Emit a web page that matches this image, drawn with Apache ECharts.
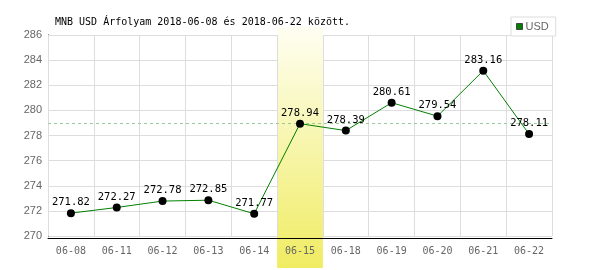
<!DOCTYPE html>
<html>
<head>
<meta charset="utf-8">
<script src="https://cdn.jsdelivr.net/npm/echarts@6/dist/echarts.min.js"></script>
<style>html,body{margin:0;padding:0;background:#fff}#c{width:600px;height:270px}</style>
</head>
<body>
<div id="c"></div>
<script>
const categories = ['06-08','06-11','06-12','06-13','06-14','06-15','06-18','06-19','06-20','06-21','06-22'];
const usdValues = [271.82,272.27,272.78,272.85,271.77,278.94,278.39,280.61,279.54,283.16,278.11];
const highlightDay = '06-15';
const referenceValue = 278.94;
const yTicks = { min: 270, max: 286, interval: 2 };
const titleText = 'MNB USD Árfolyam 2018-06-08 és 2018-06-22 között.';
const seriesName = 'USD';

const mono = 'DejaVu Sans Mono';
const chart = echarts.init(document.getElementById('c'), null, {renderer: 'canvas'});
const hlData = categories.map(c => c === highlightDay ? 1 : null);

chart.setOption({
  animation: false,
  title: {
    text: titleText, left: 50, top: 12,
    textStyle: {fontFamily: mono, fontSize: 10, fontWeight: 'normal', color: '#000'}
  },
  legend: {
    data: [{name: seriesName, icon: 'rect', itemStyle: {color: '#008000', borderColor: '#444', borderWidth: 1}}],
    left: 511, top: 17,
    padding: [4, 7, 4, 5],
    itemWidth: 6, itemHeight: 6, itemGap: 4,
    borderColor: '#ddd', borderWidth: 1, backgroundColor: '#fff',
    textStyle: {fontFamily: 'Liberation Sans', fontSize: 11, color: '#666', padding: [0,0,0,-2]},
    z: 10
  },
  grid: [
    {left: 48, right: 48, top: 35, bottom: 34},
    {left: 48, right: 48, top: 27, bottom: 2}
  ],
  xAxis: [
    {
      type: 'category', data: categories, gridIndex: 0, boundaryGap: true,
      offset: 2, z: 5,
      axisLine: {lineStyle: {color: '#000', width: 1}},
      axisTick: {show: false},
      axisLabel: {fontFamily: mono, fontSize: 10, color: '#666', margin: 8, interval: 0},
      splitLine: {show: true, interval: 0, lineStyle: {color: '#ddd', width: 1}}
    },
    {type: 'category', data: categories, gridIndex: 1, show: false, boundaryGap: true}
  ],
  yAxis: [
    {
      type: 'value', gridIndex: 0, min: yTicks.min, max: yTicks.max, interval: yTicks.interval,
      axisLine: {show: true, lineStyle: {color: '#000', width: 1}},
      axisTick: {show: false},
      axisLabel: {fontFamily: 'Liberation Sans', fontSize: 11, color: '#666', margin: 6},
      splitLine: {show: true, lineStyle: {color: '#ddd', width: 1}}
    },
    {type: 'value', gridIndex: 1, min: 0, max: 1, show: false}
  ],
  series: [
    {
      type: 'bar', xAxisIndex: 1, yAxisIndex: 1, data: hlData, barWidth: '100%',
      z: 1, silent: true,
      itemStyle: {color: new echarts.graphic.LinearGradient(0,0,0,1,[
        {offset: 0, color: '#fefef2'}, {offset: 1, color: '#f0ec62'}
      ])}
    },
    {
      name: seriesName, type: 'line', data: usdValues, z: 6,
      symbol: 'circle', symbolSize: 8,
      itemStyle: {color: '#000'},
      lineStyle: {color: '#008000', width: 1},
      label: {show: true, position: 'top', distance: 1, fontFamily: mono, fontSize: 10.5, color: '#000'},
      markLine: {
        silent: true, symbol: 'none', label: {show: false},
        lineStyle: {color: '#99cc99', type: [3, 3], width: 1},
        data: [{yAxis: referenceValue}]
      }
    }
  ]
});
</script>
</body>
</html>
